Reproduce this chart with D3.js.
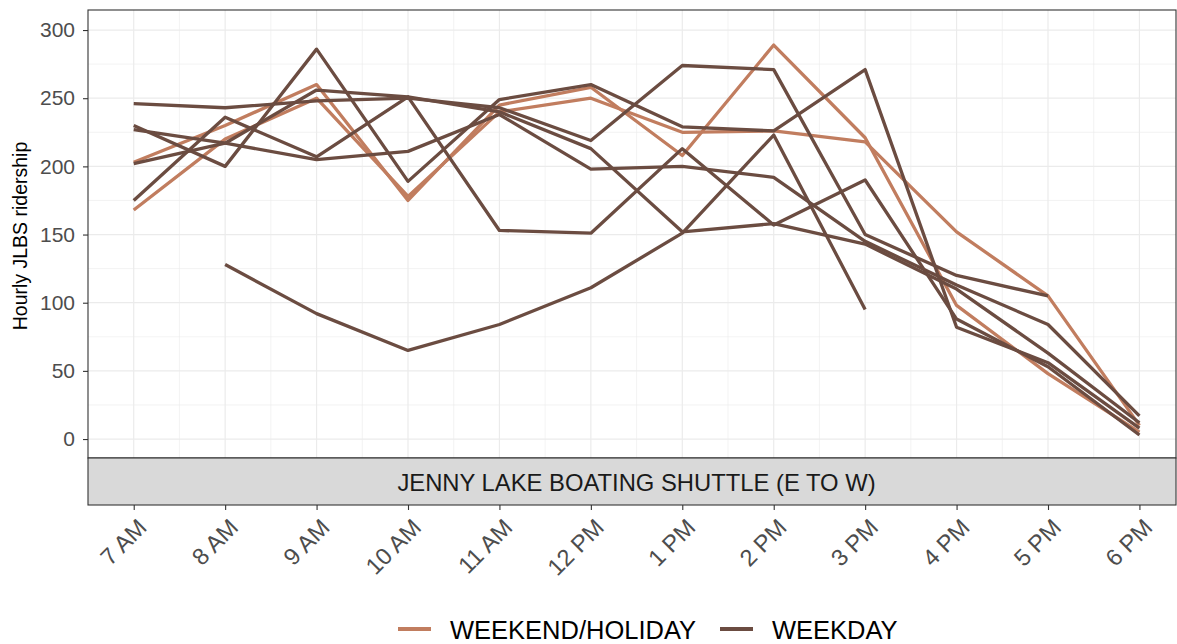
<!DOCTYPE html>
<html>
<head>
<meta charset="utf-8">
<script src="https://cdn.jsdelivr.net/npm/d3@7"></script>
<style>
  html, body { margin: 0; padding: 0; background: #ffffff; }
  svg { display: block; font-family: "Liberation Sans", Arial, sans-serif; }
</style>
</head>
<body>
<svg id="chart" width="1177" height="644"></svg>
<script>
// ---------- data ----------
const hours = ["7 AM", "8 AM", "9 AM", "10 AM", "11 AM", "12 PM", "1 PM", "2 PM", "3 PM", "4 PM", "5 PM", "6 PM"];
const yTicks = [0, 50, 100, 150, 200, 250, 300];
const seriesTypes = ["WEEKEND/HOLIDAY", "WEEKDAY"];
const seriesColors = ["#c17d5f", "#6b4c41"];
const facetTitle = "JENNY LAKE BOATING SHUTTLE (E TO W)";
const yTitle = "Hourly JLBS ridership";

const weekendA = [203, 230, 260, 175, 245, 258, 208, 289, 221, 98, 48, 5];
const weekendB = [168, 220, 250, 178, 240, 250, 225, 226, 218, 152, 105, 10];
const weekday1 = [246, 243, 248, 250, 243, 219, 274, 271, 150, 120, 105, null];
const weekday2 = [230, 200, 286, 189, 249, 260, 229, 226, 271, 82, 56, 8];
const weekday3 = [227, 217, 205, 211, 238, 198, 200, 192, 145, 113, 84, 17];
const weekday4 = [202, 217, 256, 251, 240, 213, 152, 158, 143, 110, 63, 12];
const weekday5 = [175, 236, 207, 251, 153, 151, 213, 157, 190, 88, 53, 3];
const weekday6 = [null, 128, 92, 65, 84, 111, 151, 223, 95, null, null, null];

const series = [
  { type: "WEEKEND/HOLIDAY", values: weekendA },
  { type: "WEEKEND/HOLIDAY", values: weekendB },
  { type: "WEEKDAY", values: weekday1 },
  { type: "WEEKDAY", values: weekday2 },
  { type: "WEEKDAY", values: weekday3 },
  { type: "WEEKDAY", values: weekday4 },
  { type: "WEEKDAY", values: weekday5 },
  { type: "WEEKDAY", values: weekday6 }
];

// ---------- layout ----------
const svg = d3.select("#chart");
const panel = { left: 88, right: 1176, top: 10, bottom: 458 };
const strip = { top: 458, bottom: 505 };
const FONT = "Liberation Sans, Arial, sans-serif";

const color = d3.scaleOrdinal().domain(seriesTypes).range(seriesColors);
const xIdx = d3.scaleLinear().domain([-0.5, hours.length - 0.6]).range([panel.left, panel.right]);
const x = h => xIdx(hours.indexOf(h));
const y = d3.scaleLinear().domain([-13.9, 314.7]).range([panel.bottom, panel.top]);

svg.append("rect").attr("x", panel.left).attr("y", panel.top)
  .attr("width", panel.right - panel.left).attr("height", panel.bottom - panel.top)
  .attr("fill", "#ffffff");

const grid = svg.append("g");
const minorY = d3.range(25, 300, 50);
grid.selectAll(".minY").data(minorY).enter().append("line")
  .attr("x1", panel.left).attr("x2", panel.right)
  .attr("y1", d => y(d)).attr("y2", d => y(d))
  .attr("stroke", "#ebebeb").attr("stroke-width", 0.6);
const minorX = d3.range(0, hours.length - 1).map(i => i + 0.5);
grid.selectAll(".minX").data(minorX).enter().append("line")
  .attr("x1", d => xIdx(d)).attr("x2", d => xIdx(d))
  .attr("y1", panel.top).attr("y2", panel.bottom)
  .attr("stroke", "#ebebeb").attr("stroke-width", 0.6);
grid.selectAll(".majY").data(yTicks).enter().append("line")
  .attr("x1", panel.left).attr("x2", panel.right)
  .attr("y1", d => y(d)).attr("y2", d => y(d))
  .attr("stroke", "#ebebeb").attr("stroke-width", 1.2);
grid.selectAll(".majX").data(hours).enter().append("line")
  .attr("x1", d => x(d)).attr("x2", d => x(d))
  .attr("y1", panel.top).attr("y2", panel.bottom)
  .attr("stroke", "#ebebeb").attr("stroke-width", 1.2);

const line = d3.line()
  .defined(d => d.v !== null)
  .x(d => x(d.h))
  .y(d => y(d.v));

svg.append("clipPath").attr("id", "pclip").append("rect")
  .attr("x", panel.left).attr("y", panel.top)
  .attr("width", panel.right - panel.left).attr("height", panel.bottom - panel.top);

svg.append("g").attr("clip-path", "url(#pclip)")
  .selectAll("path").data(series).enter().append("path")
  .attr("d", s => line(s.values.map((v, i) => ({ h: hours[i], v: v }))))
  .attr("fill", "none")
  .attr("stroke", s => color(s.type))
  .attr("stroke-width", 3.3)
  .attr("stroke-linejoin", "round")
  .attr("stroke-linecap", "butt");

svg.append("rect").attr("x", panel.left).attr("y", panel.top)
  .attr("width", panel.right - panel.left).attr("height", panel.bottom - panel.top)
  .attr("fill", "none").attr("stroke", "#333333").attr("stroke-width", 1.1);

// y axis
const yAxis = d3.axisLeft(y).tickValues(yTicks).tickSize(5).tickPadding(8);
const gy = svg.append("g").attr("transform", `translate(${panel.left},0)`).call(yAxis);
gy.select(".domain").remove();
gy.selectAll(".tick line").attr("stroke", "#333333").attr("stroke-width", 1.1);
gy.selectAll(".tick text").attr("fill", "#4d4d4d").style("font-size", "21px")
  .style("font-family", FONT);

// strip
svg.append("rect").attr("x", panel.left).attr("y", strip.top)
  .attr("width", panel.right - panel.left).attr("height", strip.bottom - strip.top)
  .attr("fill", "#d9d9d9").attr("stroke", "#333333").attr("stroke-width", 1.1);
svg.append("text")
  .attr("x", 636.5).attr("y", (strip.top + strip.bottom) / 2 + 1)
  .attr("text-anchor", "middle").attr("dominant-baseline", "central")
  .attr("fill", "#1a1a1a").style("font-size", "23.8px")
  .text(facetTitle);

// x axis (below strip)
const xAxisScale = d3.scalePoint().domain(hours).range([x(hours[0]), x(hours[hours.length - 1])]);
const xAxis = d3.axisBottom(xAxisScale).tickSize(5).tickPadding(3);
const gx = svg.append("g").attr("transform", `translate(0,${strip.bottom})`).call(xAxis);
gx.select(".domain").remove();
gx.selectAll(".tick line").attr("stroke", "#333333").attr("stroke-width", 1.1);
gx.selectAll(".tick text")
  .attr("fill", "#4d4d4d").style("font-size", "23.5px")
  .style("font-family", FONT)
  .attr("text-anchor", "end")
  .attr("dy", "0")
  .attr("transform", "translate(14,24) rotate(-45)")
  .attr("y", 0).attr("x", 0);

// y title
svg.append("text")
  .attr("transform", `translate(27,236) rotate(-90)`)
  .attr("text-anchor", "middle")
  .attr("fill", "#000000").style("font-size", "19.5px")
  .text(yTitle);

// legend
const legendY = 629;
const legend = svg.append("g");
const legendItems = [
  { label: seriesTypes[0], x: 398 },
  { label: seriesTypes[1], x: 720 }
];
legendItems.forEach(it => {
  legend.append("line")
    .attr("x1", it.x).attr("x2", it.x + 33)
    .attr("y1", legendY).attr("y2", legendY)
    .attr("stroke", color(it.label)).attr("stroke-width", 4);
  legend.append("text")
    .attr("x", it.x + 52).attr("y", legendY + 1)
    .attr("dominant-baseline", "central")
    .attr("fill", "#000000").style("font-size", "25.5px")
    .text(it.label);
});
</script>
</body>
</html>
